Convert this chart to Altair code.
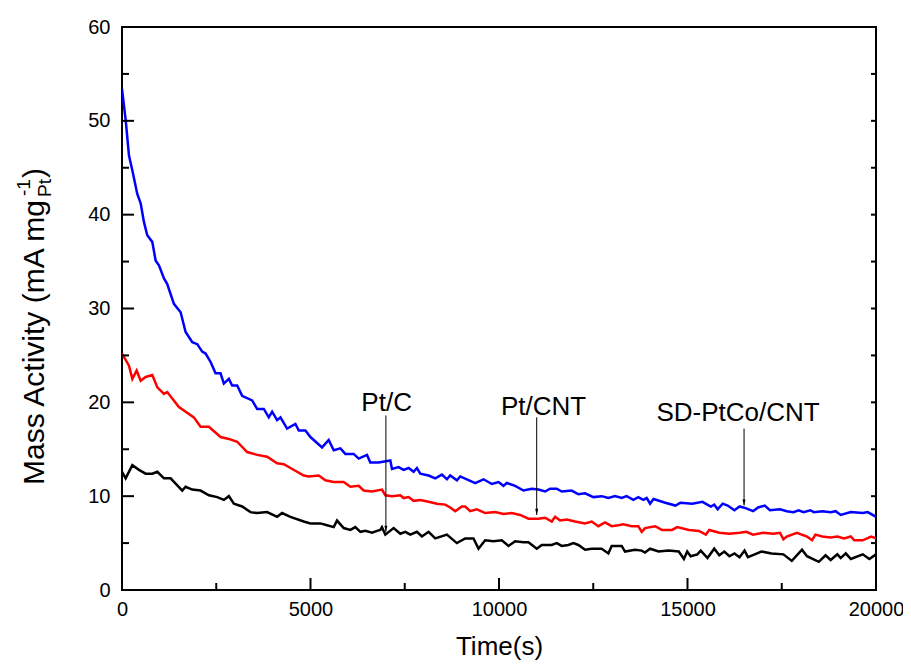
import altair as alt
import pandas as pd

# ---- data ----
t_blue = [0, 100, 185, 275, 405, 495, 583, 670, 803, 893, 980, 1113, 1200, 1377, 1555, 1687, 1864, 1997, 2127, 2217,
          2350, 2482, 2614, 2702, 2834, 2922, 3055, 3187, 3452, 3585, 3761, 3894, 3982, 4114, 4203, 4379, 4600, 4689,
          4865, 4998, 5307, 5483, 5616, 5793, 5925, 6146, 6278, 6499, 6587, 6808, 7117, 7162, 7338, 7470, 7603, 7735,
          7823, 7912, 8132, 8309, 8485, 8618, 8706, 8883, 8971, 9192, 9368, 9589, 9810, 9987, 10119, 10207, 10428,
          10649, 10870, 11046, 11223, 11355, 11532, 11664, 11929, 12106, 12283, 12503, 12724, 12901, 13077, 13254,
          13386, 13563, 13695, 13828, 13918, 14008, 14098, 14411, 14681, 14813, 15126, 15396, 15619, 15709, 15799,
          15934, 16066, 16246, 16381, 16559, 16739, 16874, 17051, 17186, 17454, 17632, 17812, 17947, 18079, 18259,
          18349, 18572, 18797, 18929, 19064, 19332, 19648, 19780, 20000]
v_blue = [53.4, 50.0, 46.3, 44.7, 42.2, 41.2, 39.2, 37.8, 37.1, 35.1, 34.6, 33.2, 32.6, 30.5, 29.6, 27.5, 26.4, 26.2,
          25.4, 25.2, 24.3, 23.1, 23.1, 22.0, 22.5, 21.8, 21.8, 20.7, 20.2, 19.3, 19.3, 18.4, 19.0, 18.1, 18.4, 17.2,
          17.7, 17.0, 17.0, 16.3, 15.2, 16.0, 14.9, 15.1, 14.5, 14.5, 14.0, 14.4, 13.6, 13.6, 13.8, 12.9, 13.1, 12.8,
          13.0, 12.6, 13.0, 12.4, 12.2, 11.9, 12.3, 11.8, 12.2, 11.7, 12.1, 11.7, 11.4, 11.8, 11.3, 11.5, 11.1, 11.4,
          11.1, 10.6, 10.8, 10.7, 10.5, 10.8, 10.8, 10.5, 10.6, 10.2, 10.3, 9.9, 10.0, 9.8, 10.0, 9.8, 10.0, 9.6, 9.9,
          9.6, 9.8, 9.2, 9.7, 9.3, 9.0, 9.3, 9.2, 9.4, 8.9, 9.1, 8.6, 9.2, 9.0, 8.5, 8.9, 8.7, 8.4, 8.8, 9.0, 8.5, 8.6,
          8.4, 8.3, 8.5, 8.3, 8.5, 8.3, 8.4, 8.3, 8.4, 8.0, 8.3, 8.2, 8.3, 7.8]

t_red = [0, 185, 274, 389, 495, 627, 804, 937, 1113, 1200, 1510, 1907, 2084, 2305, 2614, 2834, 3055, 3320, 3585, 3850,
         4114, 4291, 4644, 4821, 4954, 5219, 5395, 5616, 5881, 6058, 6278, 6411, 6631, 6896, 6985, 7162, 7382, 7470,
         7603, 7735, 7912, 8132, 8353, 8574, 8706, 8839, 9015, 9103, 9236, 9412, 9633, 9898, 10119, 10340, 10560,
         10781, 11046, 11223, 11399, 11488, 11620, 11797, 12017, 12283, 12459, 12636, 12812, 12989, 13166, 13298,
         13519, 13695, 13785, 13875, 14143, 14321, 14591, 14726, 15038, 15306, 15486, 15576, 15844, 16111, 16381,
         16559, 16739, 17006, 17274, 17454, 17544, 17632, 17902, 18170, 18304, 18394, 18572, 18797, 18974, 19154,
         19332, 19422, 19648, 19870, 20000]
v_red = [25.2, 23.9, 22.5, 23.4, 22.3, 22.7, 22.9, 21.6, 20.9, 21.1, 19.5, 18.4, 17.4, 17.4, 16.3, 16.1, 15.8, 14.7,
         14.4, 14.2, 13.5, 13.4, 12.6, 12.2, 12.1, 12.2, 11.7, 11.5, 11.5, 11.0, 11.1, 10.6, 10.5, 10.7, 10.1, 10.0,
         10.1, 9.8, 9.9, 9.5, 9.6, 9.4, 9.2, 9.1, 8.8, 8.4, 8.9, 8.9, 8.4, 8.6, 8.2, 8.3, 8.1, 8.2, 8.0, 7.6, 7.6, 7.7,
         7.3, 7.8, 7.4, 7.5, 7.3, 7.1, 7.3, 6.8, 7.2, 6.8, 6.9, 7.0, 6.8, 6.8, 6.2, 6.6, 6.8, 6.4, 6.4, 6.7, 6.4, 6.3,
         5.9, 6.4, 6.1, 6.0, 6.1, 6.2, 5.9, 6.1, 6.0, 6.1, 5.4, 5.7, 6.1, 5.7, 5.3, 5.9, 5.7, 5.6, 5.7, 5.5, 5.7, 5.3,
         5.3, 5.7, 5.5]

t_black = [0, 97, 274, 450, 627, 804, 937, 1113, 1290, 1598, 1687, 1864, 2084, 2305, 2526, 2702, 2834, 2967, 3187,
           3408, 3585, 3850, 4114, 4247, 4467, 4821, 4998, 5263, 5439, 5616, 5704, 5881, 6058, 6190, 6323, 6455, 6631,
           6764, 6852, 6896, 6985, 7205, 7382, 7515, 7647, 7823, 7956, 8132, 8309, 8618, 8883, 9103, 9324, 9457, 9633,
           9854, 10075, 10252, 10428, 10649, 10781, 11002, 11134, 11399, 11532, 11664, 11841, 11973, 12106, 12283,
           12459, 12724, 12901, 12989, 13254, 13342, 13607, 13784, 13872, 14008, 14233, 14501, 14768, 14904, 14993,
           15083, 15261, 15351, 15531, 15709, 15844, 15976, 16111, 16246, 16381, 16513, 16603, 16783, 16961, 17229,
           17544, 17767, 18037, 18170, 18482, 18662, 18797, 18974, 19064, 19199, 19332, 19648, 19825, 20000]
v_black = [12.6, 11.9, 13.3, 12.8, 12.4, 12.4, 12.6, 11.9, 11.9, 10.6, 11.0, 10.7, 10.6, 10.1, 9.9, 9.6, 10.0, 9.2,
           8.9, 8.3, 8.2, 8.3, 7.8, 8.2, 7.8, 7.3, 7.1, 7.1, 6.9, 6.7, 7.4, 6.6, 6.4, 6.7, 6.2, 6.3, 6.1, 6.3, 6.4,
           6.7, 5.9, 6.6, 6.0, 6.2, 5.9, 6.2, 5.7, 6.2, 5.5, 5.9, 5.0, 5.5, 5.5, 4.4, 5.3, 5.2, 5.3, 4.7, 5.2, 5.1,
           5.1, 4.4, 4.8, 4.8, 5.0, 4.7, 4.8, 5.0, 4.8, 4.3, 4.4, 4.4, 3.9, 4.7, 4.7, 4.1, 4.3, 4.2, 4.0, 4.4, 4.1,
           4.2, 4.1, 3.3, 4.1, 3.6, 3.8, 4.2, 3.4, 4.4, 3.7, 4.1, 3.6, 3.9, 3.5, 4.2, 3.5, 3.8, 4.1, 3.9, 3.8, 3.1,
           4.3, 3.6, 3.0, 3.7, 3.2, 3.8, 3.4, 3.9, 3.3, 3.8, 3.3, 3.8]

series_names = ["SD-PtCo/CNT", "Pt/CNT", "Pt/C"]
series_colors = ["#0000FF", "#FF0000", "#000000"]

ann_text = ["Pt/C", "Pt/CNT", "SD-PtCo/CNT"]
ann_label_x = [7020, 11180, 16340]
ann_label_y = [19.9, 19.5, 18.9]
ann_arrow_x = [7000, 11000, 16500]
ann_arrow_top = [18.6, 18.4, 17.2]
ann_arrow_end = [6.2, 8.0, 9.0]

x_major = [0, 5000, 10000, 15000, 20000]
x_minor = [2500, 7500, 12500, 17500]
y_major = [0, 10, 20, 30, 40, 50, 60]
y_minor = [5, 15, 25, 35, 45, 55]

W, H = 754, 563
FONT = "Liberation Sans"

rows = []
for name, ts, vs in zip(series_names, [t_blue, t_red, t_black], [v_blue, v_red, v_black]):
    for t, v in zip(ts, vs):
        rows.append({"t": t, "v": v, "series": name})
df = pd.DataFrame(rows)

xs = alt.Scale(domain=[0, 20000], nice=False, zero=False)
ys = alt.Scale(domain=[0, 60], nice=False, zero=False)

xaxis = alt.Axis(values=x_major, format="d", ticks=False, domain=False, grid=False, labelFontSize=20,
                 labelFont=FONT, labelColor="black", labelPadding=9, title="Time(s)", titleFont=FONT,
                 titleFontSize=26, titleFontWeight="normal", titleColor="black", titlePadding=14, labelFlush=False)
yaxis = alt.Axis(values=y_major, format="d", ticks=False, domain=False, grid=False, labelFontSize=20,
                 labelFont=FONT, labelColor="black", labelPadding=12, title="", labelFlush=False)

lines = alt.Chart(df).mark_line(strokeWidth=2.5, clip=True).encode(
    x=alt.X("t:Q", scale=xs, axis=xaxis),
    y=alt.Y("v:Q", scale=ys, axis=yaxis),
    color=alt.Color("series:N", scale=alt.Scale(domain=series_names, range=series_colors), legend=None),
    detail="series:N",
)

# ticks drawn inward
xmaj = pd.DataFrame({"t": x_major})
xmin = pd.DataFrame({"t": x_minor})
ymaj = pd.DataFrame({"v": y_major})
ymin = pd.DataFrame({"v": y_minor})
yall = pd.DataFrame({"v": sorted(y_major + y_minor)})

tick_style = dict(color="black", strokeWidth=2)
t_xmaj = alt.Chart(xmaj).mark_rule(**tick_style).encode(x=alt.X("t:Q", scale=xs), y=alt.value(H), y2=alt.value(H - 12))
t_xmin = alt.Chart(xmin).mark_rule(**tick_style).encode(x=alt.X("t:Q", scale=xs), y=alt.value(H), y2=alt.value(H - 7))
t_ymaj = alt.Chart(ymaj).mark_rule(**tick_style).encode(y=alt.Y("v:Q", scale=ys), x=alt.value(0), x2=alt.value(12))
t_ymin = alt.Chart(ymin).mark_rule(**tick_style).encode(y=alt.Y("v:Q", scale=ys), x=alt.value(0), x2=alt.value(7))
t_yr = alt.Chart(yall).mark_rule(**tick_style).encode(y=alt.Y("v:Q", scale=ys), x=alt.value(W), x2=alt.value(W - 5))

ann_df = pd.DataFrame({"text": ann_text, "lx": ann_label_x, "ly": ann_label_y,
                       "ax": ann_arrow_x, "atop": ann_arrow_top, "aend": ann_arrow_end})
ann_labels = alt.Chart(ann_df).mark_text(font=FONT, fontSize=26, color="black", baseline="middle", align="center").encode(
    x=alt.X("lx:Q", scale=xs), y=alt.Y("ly:Q", scale=ys), text="text:N")
ann_lines = alt.Chart(ann_df).mark_rule(color="black", strokeWidth=1).encode(
    x=alt.X("ax:Q", scale=xs), y=alt.Y("atop:Q", scale=ys), y2="aend:Q")
ann_heads = alt.Chart(ann_df).mark_point(shape="M -0.25 -1 L 0.25 -1 L 0 0 Z", filled=True, color="black",
                                         size=150, opacity=1, strokeWidth=0).encode(
    x=alt.X("ax:Q", scale=xs), y=alt.Y("aend:Q", scale=ys))

# y-axis title with sub/superscripts
one = pd.DataFrame({"a": [0]})
ytitle_main = alt.Chart(one).mark_text(
    text="Mass Activity (mA mg", font=FONT, fontSize=30, angle=270, align="left", baseline="alphabetic",
    color="black").encode(x=alt.value(-78), y=alt.value(458))
ytitle_sup = alt.Chart(one).mark_text(
    text="-1", font=FONT, fontSize=19, angle=270, align="left", baseline="alphabetic",
    color="black").encode(x=alt.value(-92), y=alt.value(169))
ytitle_sub = alt.Chart(one).mark_text(
    text="Pt", font=FONT, fontSize=19, angle=270, align="left", baseline="alphabetic",
    color="black").encode(x=alt.value(-71), y=alt.value(170))
ytitle_end = alt.Chart(one).mark_text(
    text=")", font=FONT, fontSize=30, angle=270, align="left", baseline="alphabetic",
    color="black").encode(x=alt.value(-78), y=alt.value(151))

chart = alt.layer(
    lines, t_xmaj, t_xmin, t_ymaj, t_ymin, t_yr, ann_lines, ann_heads, ann_labels,
    ytitle_main, ytitle_sup, ytitle_sub, ytitle_end,
).properties(
    width=W, height=H,
    autosize=alt.AutoSizeParams(type="none"),
    padding={"left": 114, "top": 19, "right": 27, "bottom": 78},
    background="white",
).configure_view(stroke="black", strokeWidth=2)

chart.save("out.html", embed_options={"renderer": "svg", "actions": False})
